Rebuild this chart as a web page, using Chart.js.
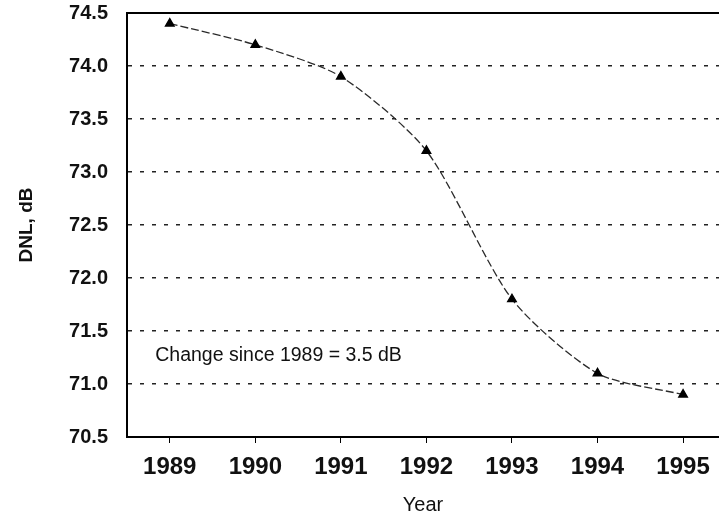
<!DOCTYPE html>
<html>
<head>
<meta charset="utf-8">
<script src="https://cdn.jsdelivr.net/npm/chart.js@4.4.0/dist/chart.umd.min.js"></script>
<style>
  html, body { margin: 0; padding: 0; background: #fff; overflow: hidden; }
  #wrap { width: 719px; height: 523px; }
</style>
</head>
<body>
<div id="wrap"><canvas id="mychart"></canvas></div>
<script>
const years = [1989, 1990, 1991, 1992, 1993, 1994, 1995];
const dnl = [74.4, 74.2, 73.9, 73.2, 71.8, 71.1, 70.9];
const yTicks = [70.5, 71.0, 71.5, 72.0, 72.5, 73.0, 73.5, 74.0, 74.5];
const noteText = 'Change since 1989 = 3.5 dB';
const noteAt = [1988.83, 71.27];

const fontFam = '"Liberation Sans", Arial, sans-serif';

// writes the note inside the plot
const notePlugin = {
    id: 'note',
    afterDatasetsDraw(chart) {
        const c = chart.ctx;
        const x = chart.scales.x.getPixelForValue(noteAt[0]);
        const y = chart.scales.y.getPixelForValue(noteAt[1]);
        c.save();
        c.font = '19.5px ' + fontFam;
        c.fillStyle = '#111';
        c.textAlign = 'left';
        c.textBaseline = 'middle';
        c.fillText(noteText, x, y);
        c.restore();
    }
};

const ctx = document.getElementById('mychart').getContext('2d');
new Chart(ctx, {
    type: 'line',
    data: {
        datasets: [{
            data: years.map((yr, i) => ({x: yr, y: dnl[i]})),
            borderColor: '#2a2a2a',
            borderWidth: 1.3,
            borderDash: [8, 3],
            tension: 0.25,
            pointStyle: 'triangle',
            pointRadius: 5,
            pointBackgroundColor: '#000',
            pointBorderColor: '#000',
            fill: false
        }]
    },
    options: {
        responsive: true,
        maintainAspectRatio: false,
        animation: false,
        layout: { autoPadding: false, padding: { top: 13, left: 0, right: 0, bottom: 0 } },
        plugins: { legend: { display: false }, tooltip: { enabled: false } },
        scales: {
            x: {
                type: 'linear',
                min: 1988.5,
                max: 1995.42,
                afterBuildTicks(scale) {
                    scale.ticks = years.map(v => ({value: v}));
                },
                afterFit(scale) {
                    scale.height = 86;
                    scale.paddingLeft = 0;
                    scale.paddingRight = 0;
                },
                border: { display: true, color: '#000', width: 2 },
                grid: { drawOnChartArea: false, drawTicks: true, tickLength: 6, color: '#000', lineWidth: 1 },
                ticks: {
                    color: '#111',
                    padding: 10,
                    maxRotation: 0,
                    font: { family: fontFam, size: 24, weight: 'bold' },
                    callback: v => String(v)
                },
                title: {
                    display: true,
                    text: 'Year',
                    color: '#111',
                    padding: { top: 0, bottom: 6 },
                    font: { family: fontFam, size: 20 }
                }
            },
            x2: {
                type: 'linear',
                position: 'top',
                min: 1988.5,
                max: 1995.42,
                afterFit(scale) {
                    scale.height = 0;
                    scale.paddingLeft = 0;
                    scale.paddingRight = 0;
                },
                border: { display: true, color: '#000', width: 2 },
                grid: { display: false },
                ticks: { display: false }
            },
            y: {
                min: 70.5,
                max: 74.5,
                afterBuildTicks(scale) {
                    scale.ticks = yTicks.map(v => ({value: v}));
                },
                afterFit(scale) {
                    scale.width = 127;
                    scale.paddingTop = 0;
                    scale.paddingBottom = 0;
                },
                border: { display: true, color: '#000', width: 2, dash: [4, 8] },
                grid: {
                    drawTicks: false,
                    color: c => (c.tick && (c.tick.value === 70.5 || c.tick.value === 74.5)) ? 'rgba(0,0,0,0)' : '#222',
                    lineWidth: 1.4
                },
                ticks: {
                    color: '#111',
                    padding: 19,
                    font: { family: fontFam, size: 20, weight: 'bold' },
                    callback: v => v.toFixed(1)
                },
                title: {
                    display: true,
                    text: 'DNL, dB',
                    color: '#111',
                    padding: { top: 15, bottom: 0 },
                    font: { family: fontFam, size: 19, weight: 'bold' }
                }
            }
        }
    },
    plugins: [notePlugin]
});
</script>
</body>
</html>
